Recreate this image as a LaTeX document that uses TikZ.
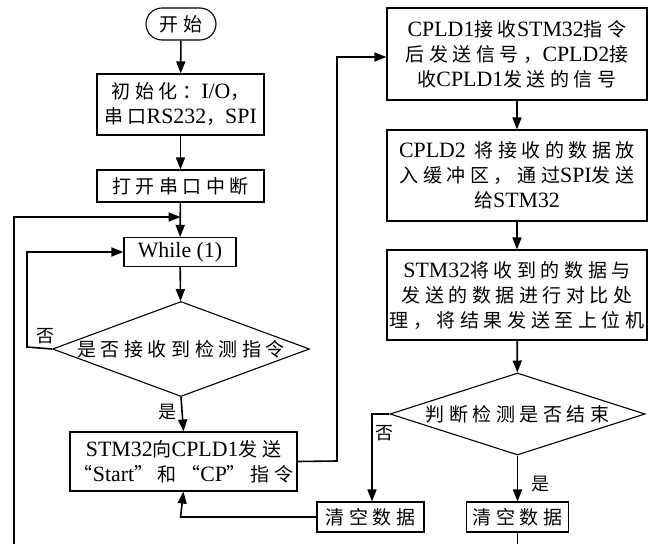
\documentclass[tikz,border=0pt]{standalone}
\usepackage{fontspec}
\setmainfont{Liberation Serif}
\newfontfamily\cjk[LetterSpace=24]{Noto Sans CJK SC}
\newfontfamily\latf[Scale=1.15]{Liberation Serif}
\newcommand\la[1]{{\latf #1}}
\usetikzlibrary{shapes.geometric,arrows.meta}
\begin{document}
\begin{tikzpicture}[x=1pt,y=-1pt,
  every node/.style={font=\cjk\fontsize{19}{25}\selectfont, inner sep=0pt, align=center},
  box/.style={draw, line width=1.1pt, rectangle},
  dia/.style={draw, line width=1.1pt, diamond},
  arr/.style={line width=1.6pt, -{Triangle[length=12pt,width=9pt]}},
  ln/.style={line width=1.6pt},
  lab/.style={font=\cjk\fontsize{18}{18}\selectfont}]
\useasboundingbox (0,0) rectangle (656,544);
\node[box, rounded corners=16pt, minimum width=70pt, minimum height=32pt] (start) at (181,24) {开始};
\node[box, minimum width=167pt, minimum height=61pt] (init) at (180.5,104.5) {初始化：\la{I/O}，\\串口\la{RS232}，\la{SPI}};
\node[box, minimum width=167pt, minimum height=32pt] (open) at (180.5,186) {打开串口中断};
\node[box, minimum width=112pt, minimum height=29pt] (while) at (180,252) {\la{While (1)}};
\node[dia, minimum width=257pt, minimum height=95pt, shape aspect=2.7] (d1) at (181,349) {是否接收到检测指令};
\node[box, minimum width=227pt, minimum height=59pt] (stm) at (183.5,461.5) {\la{STM32}向\la{CPLD1}发送\\“\la{Start}”和“\la{CP}”指令};
\node[box, minimum width=260pt, minimum height=92pt] (c1) at (517,54) {\la{CPLD1}接收\la{STM32}指令\\后发送信号，\la{CPLD2}接\\收\la{CPLD1}发送的信号};
\node[box, minimum width=260pt, minimum height=91pt] (c2) at (517,175.5) {\la{CPLD2} 将接收的数据放\\入缓冲区，通过\la{SPI}发送\\给\la{STM32}};
\node[box, minimum width=260pt, minimum height=90pt] (cmp) at (517,295) {\la{STM32}将收到的数据与\\发送的数据进行对比处\\理，将结果发送至上位机};
\node[dia, minimum width=255pt, minimum height=82pt, shape aspect=3] (d2) at (517.5,414) {判断检测是否结束};
\node[box, minimum width=107pt, minimum height=30pt] (clr1) at (370.5,517) {清空数据};
\node[box, minimum width=102pt, minimum height=30pt] (clr2) at (517.5,517) {清空数据};
\coordinate (outB) at (14,544);
\coordinate (outT) at (14,217);
\coordinate (join) at (180.5,217);
\coordinate (inB) at (27,347);
\coordinate (inT) at (27,252);
\coordinate (r1) at (337,461);
\coordinate (r2) at (337,57);
\coordinate (n2) at (372,414);
\coordinate (b1) at (180.5,517);
\coordinate (endR) at (517.5,544);
\draw[arr] (start) -- (init);
\draw[arr] (init) -- (open);
\draw[arr] (open) -- (while);
\draw[arr] (outB) -- (outT) -- (join);
\draw[arr] (while) -- (d1);
\draw[arr] (d1.west) -- (inB) -- (inT) -- (while.west);
\draw[arr] (d1.south) -- (stm.north);
\draw[arr] (stm.east) -- (r1) -- (r2) -- (c1.west |- r2);
\draw[arr] (c1) -- (c2);
\draw[arr] (c2) -- (cmp);
\draw[arr] (cmp) -- (d2);
\draw[arr] (d2.west) -- (n2) -- (clr1.north -| n2);
\draw[arr] (d2.south) -- (clr2.north);
\draw[arr] (clr1.west) -- (b1) -- (stm.south);
\draw[ln] (clr2.south) -- (endR);
\node[lab] (no1) at (45,336) {否};
\node[lab] (yes1) at (167,412) {是};
\node[lab] (no2) at (384,433) {否};
\node[lab] (yes2) at (540,484) {是};
\end{tikzpicture}
\end{document}
